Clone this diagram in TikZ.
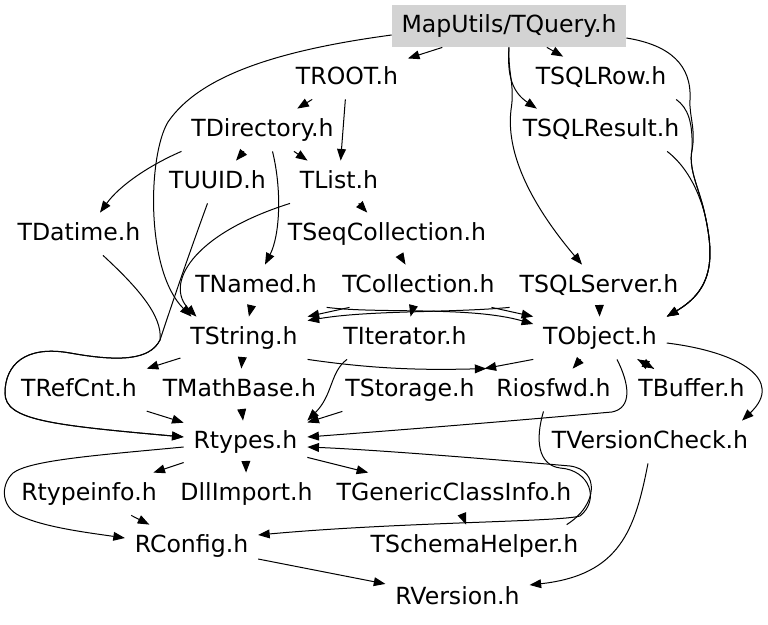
\documentclass[tikz,border=0pt]{standalone}
\usepackage{fontspec}
\setmainfont{DejaVu Sans}
\usepackage{tikz}
\usetikzlibrary{arrows.meta}
\definecolor{rootgray}{RGB}{211,211,211}
\begin{document}
\begin{tikzpicture}[x=0.5pt, y=-0.5pt,
    hdr/.style={font=\fontsize{11.8}{14}\selectfont, inner xsep=4.75pt, inner ysep=0pt, minimum height=21pt, text height=9.5pt, text depth=2.5pt},
    inc/.style={->, line width=0.5pt},
    >={Triangle[length=5.8pt, width=4.4pt]}]
  \useasboundingbox (0,0) rectangle (768,625);
  \node[hdr, fill=rootgray] (tquery) at (509,26) {MapUtils/TQuery.h};
  \node[hdr] (troot) at (347,78) {TROOT.h};
  \node[hdr] (tsqlrow) at (601,78) {TSQLRow.h};
  \node[hdr] (tdirectory) at (262.5,130) {TDirectory.h};
  \node[hdr] (tsqlresult) at (601,130) {TSQLResult.h};
  \node[hdr] (tuuid) at (217.5,182) {TUUID.h};
  \node[hdr] (tlist) at (339,182) {TList.h};
  \node[hdr] (tdatime) at (79,234) {TDatime.h};
  \node[hdr] (tseqcoll) at (387,234) {TSeqCollection.h};
  \node[hdr] (tnamed) at (256,286) {TNamed.h};
  \node[hdr] (tcoll) at (418.5,286) {TCollection.h};
  \node[hdr] (tsqlserver) at (599,286) {TSQLServer.h};
  \node[hdr] (tstring) at (244,338) {TString.h};
  \node[hdr] (titer) at (405,338) {TIterator.h};
  \node[hdr] (tobject) at (600,338) {TObject.h};
  \node[hdr] (trefcnt) at (79,390) {TRefCnt.h};
  \node[hdr] (tmathbase) at (239.5,390) {TMathBase.h};
  \node[hdr] (tstorage) at (410,390) {TStorage.h};
  \node[hdr] (riosfwd) at (553.5,390) {Riosfwd.h};
  \node[hdr] (tbuffer) at (691.5,390) {TBuffer.h};
  \node[hdr] (rtypes) at (245.5,442) {Rtypes.h};
  \node[hdr] (tversion) at (650,442) {TVersionCheck.h};
  \node[hdr] (rtypeinfo) at (89,494) {Rtypeinfo.h};
  \node[hdr] (dllimport) at (246.5,494) {DllImport.h};
  \node[hdr] (tgeneric) at (454,494) {TGenericClassInfo.h};
  \node[hdr] (rconfig) at (191.5,546) {RConfig.h};
  \node[hdr] (tschema) at (474.5,546) {TSchemaHelper.h};
  \node[hdr] (rversion) at (457.5,598) {RVersion.h};

  \draw[inc] (tquery) -- (troot);
  \draw[inc] (tquery) -- (tsqlrow);
  \draw[inc] (tquery.south) .. controls (507,75) and (512,92) .. ([xshift=12pt]tsqlresult.north west);
  \draw[inc] (tquery.south) .. controls (508,75) and (515,85) .. (511,110) .. controls (505,160) and (540,215) .. ([xshift=-8.5pt]tsqlserver.north);
  \draw[inc] ([yshift=-6pt]tquery.east) .. controls (670,45) and (692,65) .. (690,100) .. controls (689,115) and (696,130) .. (692,150) .. controls (688,170) and (700,190) .. (705,215) .. controls (715,260) and (712,290) .. (tobject.north east);
  \draw[inc] (tsqlrow.south east) .. controls (688,108) and (693,122) .. (692,150) .. controls (688,170) and (700,190) .. (705,215) .. controls (715,260) and (712,290) .. (tobject.north east);
  \draw[inc] ([xshift=-11pt]tsqlresult.south east) .. controls (685,165) and (698,188) .. (705,215) .. controls (715,260) and (712,290) .. (tobject.north east);
  \draw[inc] ([yshift=-4.5pt]tquery.west) .. controls (280,50) and (200,75) .. (168,122) .. controls (148,155) and (145,270) .. ([xshift=5.5pt]tstring.north west);
  \draw[inc] (troot) -- (tdirectory);
  \draw[inc] (troot) -- (tlist);
  \draw[inc] (tdirectory) -- (tuuid);
  \draw[inc] (tdirectory) -- (tlist);
  \draw[inc] (tdirectory.south west) .. controls (150,165) and (120,185) .. ([xshift=10.5pt]tdatime.north);
  \draw[inc] ([xshift=5pt]tdirectory.south) .. controls (282,190) and (280,235) .. ([xshift=4.5pt]tnamed.north);
  \draw[inc] ([xshift=-5pt]tuuid.south) .. controls (185,265) and (170,310) .. (160,340) .. controls (150,360) and (120,362) .. (70,353) .. controls (25,345) and (5,365) .. (5,393) .. controls (5,420) and (50,425) .. ([yshift=2.5pt]rtypes.west);
  \draw[inc] ([xshift=12pt]tdatime.south) .. controls (135,285) and (163,315) .. (160,340) .. controls (150,360) and (120,362) .. (70,353) .. controls (25,345) and (5,365) .. (5,393) .. controls (5,420) and (50,425) .. ([yshift=2.5pt]rtypes.west);
  \draw[inc] (tlist.south west) .. controls (190,235) and (165,285) .. ([xshift=8pt]tstring.north west);
  \draw[inc] (tlist) -- (tseqcoll);
  \draw[inc] (tseqcoll) -- (tcoll);
  \draw[inc] (tnamed) -- (tstring);
  \draw[inc] (tnamed.south east) .. controls (380,314) and (470,306) .. ([yshift=7pt]tobject.west);
  \draw[inc] ([xshift=-6.5pt]tcoll.south east) -- (tobject.north west);
  \draw[inc] ([xshift=8.5pt]tcoll.south west) -- (tstring.north east);
  \draw[inc] (tsqlserver.south west) .. controls (450,313) and (370,310) .. ([yshift=-2pt]tstring.north east);
  \draw[inc] (tcoll) -- (titer);
  \draw[inc] (tsqlserver) -- (tobject);
  \draw[inc] (tstring) -- (trefcnt);
  \draw[inc] (tstring) -- (tmathbase);
  \draw[inc] (tstring.south east) .. controls (380,370) and (430,370) .. (riosfwd.north west);
  \draw[inc] (tobject.south west) -- (tstorage.north east);
  \draw[inc] (tobject) -- (riosfwd);
  \draw[inc] (tobject) -- (tbuffer);
  \draw[inc] (tbuffer) -- (tobject);
  \draw[inc] ([yshift=-2.5pt]tobject.east) .. controls (740,352) and (785,380) .. ([xshift=-8pt]tversion.north east);
  \draw[inc] ([xshift=8.5pt]tobject.south) .. controls (630,385) and (632,408) .. (612,412) .. controls (500,422) and (400,430) .. ([yshift=2.5pt]rtypes.east);
  \draw[inc] (tstorage) -- (rtypes);
  \draw[inc] ([xshift=-29pt]titer.south) .. controls (330,372) and (333,395) .. (rtypes.north east);
  \draw[inc] (trefcnt) -- (rtypes);
  \draw[inc] (tmathbase) -- (rtypes);
  \draw[inc] ([xshift=-5pt]riosfwd.south) .. controls (535,440) and (538,465) .. (560,468) .. controls (590,470) and (600,500) .. (580,516) .. controls (560,522) and (400,522) .. ([yshift=5.5pt]rconfig.east);
  \draw[inc] ([xshift=-10.75pt]tschema.north east) .. controls (598,505) and (600,470) .. (570,466) .. controls (500,460) and (380,450) .. ([yshift=-2.5pt]rtypes.east);
  \draw[inc] (rtypes) -- (rtypeinfo);
  \draw[inc] (rtypes) -- (dllimport);
  \draw[inc] (rtypes) -- (tgeneric);
  \draw[inc] ([yshift=-2.5pt]rtypes.west) .. controls (100,455) and (30,460) .. (13,473) .. controls (0,485) and (0,510) .. (25,518) .. controls (50,528) and (90,533) .. ([yshift=4pt]rconfig.west);
  \draw[inc] (rtypeinfo) -- (rconfig);
  \draw[inc] (tgeneric) -- (tschema);
  \draw[inc] (rconfig) -- (rversion);
  \draw[inc] ([xshift=-1pt]tversion.south) .. controls (635,530) and (620,575) .. ([yshift=6.5pt]rversion.east);
\end{tikzpicture}
\end{document}
